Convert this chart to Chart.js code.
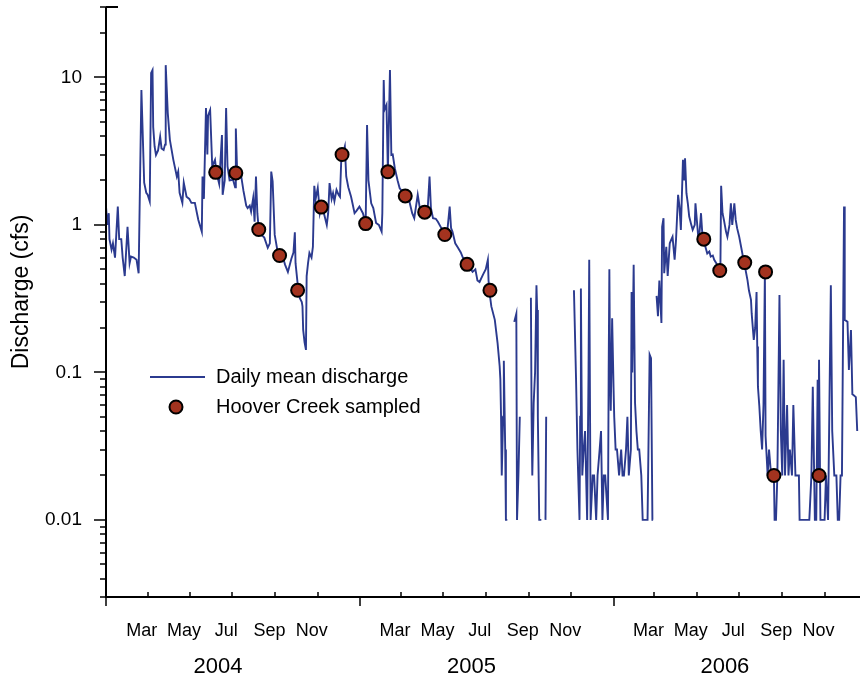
<!DOCTYPE html>
<html><head><meta charset="utf-8">
<script src="https://cdn.jsdelivr.net/npm/chart.js@4.4.1/dist/chart.umd.min.js"></script>
<style>html,body{margin:0;padding:0;background:#fff;}#wrap{width:860px;height:681px;position:relative;}</style>
</head><body><div id="wrap"><canvas id="c" width="860" height="681"></canvas></div>
<script>
// Day numbers counted from 1 Jan 2004
const dischargeDays = [0,2,4,5,8,10,13,17,19,22,24,27,31,34,36,40,44,47,51,53,55,58,60,63,65,67,68,70,72,75,78,80,83,85,86,89,92,97,102,104,106,110,112,116,120,123,128,131,133,138,139,141,144,146,147,150,153,157,159,163,167,168,171,173,175,178,183,186,187,189,192,194,198,202,204,207,209,212,214,216,218,220,224,228,233,236,238,240,243,248,250,254,258,262,267,270,272,273,277,279,282,283,284,286,288,289,291,293,296,298,300,302,305,308,310,312,315,318,320,322,325,327,329,332,335,337,339,341,344,346,349,353,355,358,361,365,370,374,376,378,382,385,389,393,397,398,400,401,404,406,409,411,413,416,420,423,426,430,434,437,441,444,449,452,454,459,463,466,468,471,475,478,483,487,491,495,497,499,503,507,511,514,518,521,523,528,532,535,538,543,547,550,551,552,555,560,564,567,568,569,570,572,573,575,576,578,579,588,591,592,594,596,597,612,613,614,616,618,620,621,622,624,627,628,633,634,636,674,677,679,682,683,684,685,686,688,690,693,695,696,698,701,703,706,708,711,713,715,717,719,723,724,725,726,727,729,731,732,734,736,739,742,744,746,749,751,753,756,757,758,760,762,764,766,768,771,773,777,780,783,785,787,788,789,793,795,797,800,801,803,804,807,809,812,814,816,819,821,824,826,828,831,833,834,836,838,840,843,845,848,849,853,855,857,859,861,863,866,869,871,874,876,879,883,885,886,888,890,893,895,898,900,902,905,907,909,912,915,919,921,924,926,929,930,933,935,937,938,939,941,943,945,947,949,950,953,955,958,960,962,963,965,967,970,972,974,976,978,981,983,985,988,990,993,995,998,999,1002,1007,1010,1013,1016,1018,1021,1023,1025,1026,1027,1029,1032,1035,1037,1040,1044,1046,1049,1052,1054,1056,1058,1060,1063,1064,1068,1070,1073,1075,1077,1080,1082];
const dischargeValues = [1.33,1.0,1.2,0.8,0.68,0.75,0.6,1.33,0.8,0.8,0.6,0.45,0.97,0.55,0.61,0.6,0.58,0.47,8.2,3.97,1.93,1.65,1.6,1.44,10.7,11.2,4.6,3.4,2.98,3.2,3.97,3.3,3.22,3.5,12.1,5.7,3.77,2.76,2.13,2.3,1.65,1.41,1.93,1.55,1.5,1.41,1.41,1.2,1.08,0.9,2.13,1.5,6.2,3.0,5.5,6.0,2.5,2.76,2.27,1.9,4.07,1.6,2.0,6.2,2.5,2.0,2.02,1.8,4.5,2.2,2.3,2.25,1.7,1.35,1.3,1.35,1.23,1.52,1.05,2.13,1.2,0.93,0.855,0.82,0.70,0.75,2.3,1.97,0.855,0.626,0.6,0.62,0.536,0.48,0.59,0.65,0.89,0.55,0.36,0.32,0.30,0.28,0.194,0.16,0.142,0.45,0.55,0.645,0.6,0.71,1.84,1.5,1.78,1.2,1.33,1.3,1.14,1.0,1.2,1.92,1.5,1.64,1.45,1.73,1.6,1.55,2.9,3.0,3.4,2.13,1.8,1.55,1.4,1.2,1.25,1.33,1.2,1.03,4.76,2.0,1.4,1.3,1.03,1.0,0.9,1.2,9.6,6.0,6.5,2.3,11.2,2.98,3.0,2.42,2.0,1.77,1.7,1.6,1.5,1.44,1.2,1.11,1.6,1.3,1.3,1.23,1.2,2.13,1.3,1.11,1.1,1.05,0.95,0.86,0.85,1.33,0.95,0.9,0.75,0.7,0.65,0.6,0.56,0.54,0.52,0.48,0.5,0.42,0.41,0.46,0.5,0.58,0.42,0.36,0.28,0.227,0.158,0.11,0.09,0.05,0.02,0.05,0.12,0.03,0.01,0.01,null,0.22,0.25,0.01,0.02,0.05,null,0.32,0.05,0.02,0.062,0.1,0.39,0.265,0.05,0.01,0.01,null,0.01,0.05,null,0.36,0.091,0.03,0.01,0.05,0.37,0.08,0.02,0.03,0.04,0.01,0.1,0.58,0.01,0.02,0.02,0.01,0.02,0.03,0.04,0.01,0.02,0.02,0.01,0.1,0.5,0.1,0.055,0.233,0.08,0.05,0.03,0.03,0.02,0.03,0.02,0.02,0.03,0.05,0.02,0.03,0.35,0.1,0.536,0.062,0.04,0.03,0.03,0.02,0.01,0.01,0.01,0.132,0.125,0.01,0.01,null,0.33,0.24,0.42,0.216,0.97,1.11,0.47,0.71,0.45,0.75,0.79,0.83,0.58,0.79,1.6,1.33,0.925,2.76,2.0,2.83,1.64,1.4,1.14,1.0,0.925,1.0,1.4,0.83,0.9,1.2,0.85,0.80,0.72,0.64,0.66,0.61,0.62,0.58,0.55,0.49,0.55,1.84,1.2,1.08,0.9,0.83,1.0,1.4,1.0,1.4,1.08,0.95,0.83,0.7,0.555,0.5,0.42,0.36,0.31,0.25,0.166,0.2,0.35,0.15,0.08,0.059,0.04,0.03,0.06,0.48,0.037,0.02,0.03,0.02,0.02,0.02,0.01,0.01,0.02,0.335,0.04,0.02,0.122,0.02,0.06,0.02,0.03,0.02,0.06,0.02,0.02,0.02,0.01,0.01,0.01,0.01,0.01,0.02,0.08,0.01,0.01,0.089,0.02,0.122,0.01,0.01,0.01,0.02,0.01,0.39,0.04,0.02,0.02,0.01,0.01,0.02,0.02,1.33,0.227,0.22,0.104,0.194,0.071,0.07,0.068,0.04];
const sampleDays = [158,187,220,250,276,310,340,374,406,431,459,488,520,553,861,884,920,950,962,1027];
const sampleValues = [2.27,2.25,0.93,0.62,0.36,1.32,3.0,1.02,2.29,1.57,1.22,0.86,0.54,0.36,0.80,0.49,0.555,0.48,0.02,0.02];
const monthTickDays = [0,60,121,182,244,305,366,425,486,547,609,670,731,790,851,912,974,1035];
const monthTickLabels = ['','Mar','May','Jul','Sep','Nov','','Mar','May','Jul','Sep','Nov','','Mar','May','Jul','Sep','Nov'];
const yearStartDays = [0,366,731];
const yearLabels = ['2004','2005','2006'];
const yearMidDays = [183,548,913];
const yMajorTicks = [0.01,0.1,1,10];
const yMajorLabels = ['0.01','0.1','1','10'];
const seriesLabels = ['Daily mean discharge','Hoover Creek sampled'];
const yTitle = 'Discharge (cfs)';

const LINE_COLOR = '#2b3a8f';
const DOT_COLOR = '#a3331f';
const FONT = '"Liberation Sans", Arial, sans-serif';

const yTickValues = [];
[0.001,0.01,0.1,1,10].forEach(d => { for (let m = 1; m <= 9; m++) { const v = +(d*m).toPrecision(3); if (v >= 0.003 && v <= 30) yTickValues.push(v); } });

const deco = {
  id: 'deco',
  afterDraw(chart) {
    const {ctx, chartArea: a, scales: {x, y}} = chart;
    ctx.save();
    ctx.strokeStyle = '#000';
    ctx.lineWidth = 2;
    ctx.beginPath();
    ctx.moveTo(a.left, a.top); ctx.lineTo(a.left, a.bottom);
    ctx.moveTo(a.left - 1, a.bottom); ctx.lineTo(a.right, a.bottom);
    ctx.moveTo(a.left, a.top); ctx.lineTo(a.left + 12, a.top);
    ctx.stroke();
    ctx.lineWidth = 1.5;
    ctx.beginPath();
    yTickValues.forEach(v => {
      const py = Math.round(y.getPixelForValue(v));
      const major = yMajorTicks.some(m => Math.abs(m - v) < 1e-9);
      ctx.moveTo(a.left, py); ctx.lineTo(a.left - (major ? 12 : 6), py);
    });
    monthTickDays.forEach(d => {
      const px = Math.round(x.getPixelForValue(d));
      if (yearStartDays.includes(d)) { ctx.moveTo(px, a.bottom); ctx.lineTo(px, a.bottom + 9); }
      else { ctx.moveTo(px, a.bottom); ctx.lineTo(px, a.bottom - 5); }
    });
    ctx.stroke();
    ctx.fillStyle = '#000';
    ctx.font = '22px ' + FONT;
    ctx.textAlign = 'center'; ctx.textBaseline = 'middle';
    yearLabels.forEach((t, i) => ctx.fillText(t, x.getPixelForValue(yearMidDays[i]) - 15, 667));
    ctx.save();
    ctx.translate(22, 292); ctx.rotate(-Math.PI / 2);
    ctx.font = '23px ' + FONT;
    ctx.fillText(yTitle, 0, 0);
    ctx.restore();
    ctx.strokeStyle = LINE_COLOR; ctx.lineWidth = 2;
    ctx.beginPath(); ctx.moveTo(150, 377); ctx.lineTo(205, 377); ctx.stroke();
    ctx.beginPath(); ctx.arc(176, 407, 6.5, 0, Math.PI * 2);
    ctx.fillStyle = DOT_COLOR; ctx.fill();
    ctx.strokeStyle = '#000'; ctx.lineWidth = 2; ctx.stroke();
    ctx.fillStyle = '#000';
    ctx.font = '20px ' + FONT; ctx.textAlign = 'left';
    ctx.fillText(seriesLabels[0], 216, 377);
    ctx.fillText(seriesLabels[1], 216, 407);
    ctx.restore();
  }
};

function noPad(s) { s.paddingTop = 0; s.paddingBottom = 0; s.paddingLeft = 0; s.paddingRight = 0; }

new Chart(document.getElementById('c'), {
  type: 'line',
  data: {
    datasets: [
      { label: seriesLabels[1], data: sampleDays.map((d, i) => ({x: d, y: sampleValues[i]})), showLine: false,
        pointRadius: 6.5, pointBackgroundColor: DOT_COLOR, pointBorderColor: '#000', pointBorderWidth: 2, order: 0 },
      { label: seriesLabels[0], data: dischargeDays.map((d, i) => ({x: d, y: dischargeValues[i]})), borderColor: LINE_COLOR,
        borderWidth: 1.9, pointRadius: 0, tension: 0, spanGaps: false, order: 1 }
    ]
  },
  options: {
    responsive: false, animation: false, devicePixelRatio: 1,
    layout: { autoPadding: false, padding: { top: 7, right: 0, left: 0, bottom: 0 } },
    plugins: { legend: { display: false }, tooltip: { enabled: false } },
    scales: {
      x: {
        type: 'linear', min: 0, max: 1086,
        afterBuildTicks: s => { s.ticks = monthTickDays.map(v => ({value: v})); },
        afterFit: s => { s.height = 84; noPad(s); },
        grid: { display: false, drawTicks: false },
        border: { display: false },
        ticks: { autoSkip: false, maxRotation: 0, padding: 23, labelOffset: -6, color: '#000',
                 font: { size: 18, family: FONT }, callback: (v, i) => monthTickLabels[i] }
      },
      y: {
        type: 'logarithmic', min: 0.003, max: 30,
        afterBuildTicks: s => { s.ticks = yTickValues.map(v => ({value: v})); },
        afterFit: s => { s.width = 106; noPad(s); },
        grid: { display: false, drawTicks: false },
        border: { display: false },
        ticks: { autoSkip: false, padding: 24, color: '#000', font: { size: 19, family: FONT },
                 callback: v => { const k = yMajorTicks.findIndex(m => Math.abs(m - v) < 1e-9); return k >= 0 ? yMajorLabels[k] : ''; } }
      }
    }
  },
  plugins: [deco]
});
</script></body></html>
